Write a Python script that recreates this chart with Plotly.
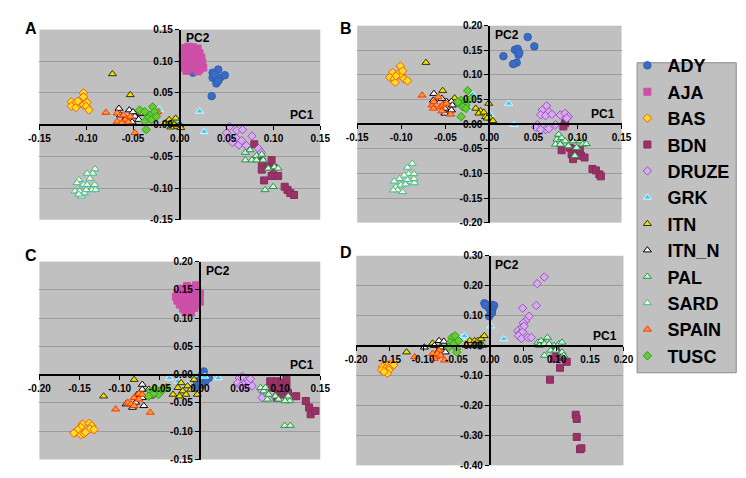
import plotly.graph_objects as go

# ---------------- tick labels ----------------
A_XTICKS = ['-0.15', '-0.10', '-0.05', '0.00', '0.05', '0.10', '0.15']
A_YTICKS = ['-0.15', '-0.10', '-0.05', '0.00', '0.05', '0.10', '0.15']
B_XTICKS = ['-0.15', '-0.10', '-0.05', '0.00', '0.05', '0.10', '0.15']
B_YTICKS = ['-0.20', '-0.15', '-0.10', '-0.05', '0.00', '0.05', '0.10', '0.15', '0.20']
C_XTICKS = ['-0.20', '-0.15', '-0.10', '-0.05', '0.00', '0.05', '0.10', '0.15']
C_YTICKS = ['-0.15', '-0.10', '-0.05', '0.00', '0.05', '0.10', '0.15', '0.20']
D_XTICKS = ['-0.20', '-0.15', '-0.10', '-0.05', '0.00', '0.05', '0.10', '0.15', '0.20']
D_YTICKS = ['-0.40', '-0.30', '-0.20', '-0.10', '0.00', '0.10', '0.20', '0.30']

GROUPS = ['ADY', 'AJA', 'BAS', 'BDN', 'DRUZE', 'GRK', 'ITN', 'ITN_N', 'PAL', 'SARD', 'SPAIN', 'TUSC']

# ---------------- panel A (PC1, PC2) ----------------
A_ADY = [(0.014, 0.082), (0.035, 0.082), (0.041, 0.087), (0.035, 0.074), (0.039, 0.072), (0.043, 0.074),
         (0.039, 0.065), (0.041, 0.069), (0.048, 0.078), (0.034, 0.045), (0.037, 0.079)]
A_AJA = [(0.004, 0.121), (0.009, 0.123), (0.014, 0.122), (0.019, 0.120), (0.006, 0.116), (0.011, 0.117),
         (0.016, 0.115), (0.021, 0.113), (0.003, 0.110), (0.008, 0.109), (0.013, 0.110), (0.018, 0.108),
         (0.023, 0.106), (0.005, 0.103), (0.010, 0.102), (0.015, 0.103), (0.020, 0.100), (0.024, 0.098),
         (0.003, 0.097), (0.008, 0.095), (0.013, 0.096), (0.018, 0.094), (0.023, 0.092), (0.005, 0.090),
         (0.010, 0.088), (0.016, 0.089), (0.021, 0.087), (0.025, 0.090), (0.007, 0.085), (0.019, 0.084)]
A_BAS = [(-0.103, 0.050), (-0.103, 0.044), (-0.116, 0.036), (-0.112, 0.033), (-0.116, 0.029), (-0.111, 0.027),
         (-0.107, 0.033), (-0.103, 0.031), (-0.099, 0.035), (-0.100, 0.029), (-0.097, 0.023), (-0.109, 0.037)]
A_BDN = [(0.0795, -0.031), (0.0875, -0.059), (0.098, -0.056), (0.0875, -0.071), (0.0945, -0.066), (0.098, -0.081),
         (0.105, -0.081), (0.090, -0.088), (0.112, -0.098), (0.115, -0.103), (0.118, -0.108), (0.122, -0.111),
         (0.100, -0.068), (0.086, -0.049)]
A_DRUZE = [(0.053, -0.003), (0.050, -0.013), (0.061, -0.009), (0.067, -0.008), (0.052, -0.021), (0.060, -0.021),
           (0.063, -0.032), (0.056, -0.028), (0.077, -0.018), (0.071, -0.033), (0.084, -0.038), (0.087, -0.044),
           (0.066, -0.025)]
A_GRK = [(0.021, 0.021), (0.026, -0.011), (-0.022, 0.024), (-0.004, 0.003)]
A_ITN = [(-0.072, 0.080), (-0.053, 0.047), (-0.0115, 0.0077), (-0.008, 0.003), (-0.0045, 0.010), (-0.003, -0.003),
         (-0.0097, -0.004), (0.0, 0.0), (0.001, -0.005), (-0.006, 0.0), (-0.015, 0.0026), (-0.041, 0.017)]
A_ITN_N = [(-0.065, 0.0255), (-0.054, 0.023), (-0.048, 0.013), (-0.051, 0.004), (-0.044, 0.008), (-0.058, 0.010),
           (-0.041, 0.018), (-0.050, 0.020), (-0.0635, 0.015)]
A_PAL = [(0.070, -0.044), (0.075, -0.040), (0.070, -0.056), (0.077, -0.056), (0.082, -0.049), (0.0875, -0.047),
         (0.082, -0.056), (0.089, -0.056), (0.0945, -0.069), (0.101, -0.067), (0.105, -0.069), (0.091, -0.103),
         (0.0997, -0.098)]
A_SARD = [(-0.0906, -0.070), (-0.093, -0.077), (-0.099, -0.077), (-0.096, -0.085), (-0.108, -0.087),
          (-0.110, -0.092), (-0.103, -0.095), (-0.099, -0.095), (-0.091, -0.095), (-0.112, -0.105),
          (-0.107, -0.105), (-0.102, -0.108), (-0.094, -0.103), (-0.090, -0.103), (-0.105, -0.113),
          (-0.108, -0.110), (-0.100, -0.103)]
A_SPAIN = [(-0.079, 0.019), (-0.067, 0.018), (-0.067, 0.005), (-0.060, 0.015), (-0.058, 0.008), (-0.055, 0.004),
           (-0.048, -0.013), (-0.062, 0.0025), (-0.0236, 0.020), (-0.053, 0.0128)]
A_TUSC = [(-0.043, 0.023), (-0.0375, 0.0205), (-0.032, 0.015), (-0.029, 0.028), (-0.027, 0.020), (-0.034, 0.010),
          (-0.0305, 0.0077), (-0.0375, 0.005), (-0.025, 0.0128), (-0.036, -0.0077)]

# ---------------- panel B ----------------
B_ADY = [(0.016, 0.138), (0.029, 0.151), (0.032, 0.153), (0.033, 0.141), (0.034, 0.145), (0.0435, 0.177),
         (0.051, 0.158), (0.031, 0.125), (0.027, 0.122)]
B_BAS = [(-0.101, 0.118), (-0.110, 0.105), (-0.113, 0.095), (-0.108, 0.092), (-0.107, 0.085), (-0.104, 0.102),
         (-0.100, 0.098), (-0.097, 0.092), (-0.093, 0.088), (-0.0985, 0.108), (-0.106, 0.098)]
B_BDN = [(0.086, 0.002), (0.084, -0.0046), (0.082, -0.053), (0.0915, -0.048), (0.0933, -0.061), (0.097, -0.051),
         (0.1007, -0.0577), (0.1026, -0.051), (0.104, -0.064), (0.108, -0.0677), (0.095, -0.071), (0.117, -0.091),
         (0.121, -0.094), (0.1248, -0.102), (0.1265, -0.106)]
B_DRUZE = [(0.065, 0.037), (0.060, 0.0287), (0.0675, 0.025), (0.0583, 0.0187), (0.0638, 0.0173), (0.071, 0.020),
           (0.0546, -0.001), (0.0528, -0.0066), (0.0638, -0.011), (0.0675, -0.009), (0.075, -0.001),
           (0.0805, 0.0187), (0.086, 0.022), (0.0897, 0.0153), (0.0878, 0.012), (0.0583, -0.011)]
B_GRK = [(-0.019, 0.060), (-0.023, 0.032), (0.001, 0.019), (0.022, 0.042), (0.028, -0.001)]
B_ITN = [(-0.072, 0.125), (-0.053, 0.068), (-0.0395, 0.053), (-0.0155, 0.032), (-0.010, 0.027), (-0.012, 0.022),
         (-0.0063, 0.024), (-0.0044, 0.015), (-0.0008, 0.042), (0.001, 0.012), (0.004, 0.007), (-0.0025, 0.012)]
B_ITN_N = [(-0.063, 0.062), (-0.0635, 0.0485), (-0.0487, 0.046), (-0.043, 0.046), (-0.042, 0.0385),
           (-0.0506, 0.032), (-0.0506, 0.022), (-0.043, 0.0285), (-0.054, 0.052)]
B_PAL = [(0.0786, -0.021), (0.0767, -0.031), (0.082, -0.028), (0.075, -0.041), (0.0805, -0.041), (0.086, -0.0344),
         (0.095, -0.0344), (0.1026, -0.0344), (0.106, -0.041), (0.110, -0.040), (0.097, -0.064), (0.099, -0.0477),
         (0.0897, -0.0444)]
B_SARD = [(-0.0875, -0.080), (-0.093, -0.088), (-0.0915, -0.101), (-0.0856, -0.101), (-0.0967, -0.104),
          (-0.102, -0.111), (-0.108, -0.116), (-0.106, -0.1275), (-0.1004, -0.124), (-0.095, -0.122),
          (-0.089, -0.1175), (-0.085, -0.1195), (-0.0856, -0.111), (-0.104, -0.134), (-0.0985, -0.1375),
          (-0.109, -0.134), (-0.093, -0.113)]
B_SPAIN = [(-0.0764, 0.0585), (-0.065, 0.0385), (-0.058, 0.055), (-0.0635, 0.032), (-0.056, 0.035),
           (-0.053, 0.0385), (-0.054, 0.0265), (-0.0487, 0.042), (-0.044, 0.020), (-0.063, 0.045)]
B_TUSC = [(-0.0247, 0.068), (-0.032, 0.0485), (-0.0285, 0.045), (-0.034, 0.042), (-0.0266, 0.0385),
          (-0.030, 0.035), (-0.0266, 0.032), (-0.032, 0.0153), (-0.021, 0.052), (-0.0358, 0.045)]

# ---------------- panel C ----------------
C_ADY = [(0.0048, 0.0058), (0.011, -0.0058), (0.0069, -0.0117), (0.0008, -0.0087), (-0.0052, -0.023),
         (-0.004, -0.012), (0.002, -0.018), (0.003, 0.001)]
C_AJA = [(-0.016, 0.157), (-0.005, 0.158), (-0.024, 0.152), (-0.017, 0.150), (-0.010, 0.151), (-0.003, 0.149),
         (-0.028, 0.145), (-0.021, 0.144), (-0.014, 0.145), (-0.007, 0.144), (0.0, 0.143), (-0.030, 0.138),
         (-0.023, 0.137), (-0.016, 0.138), (-0.009, 0.137), (-0.002, 0.136), (-0.028, 0.131), (-0.021, 0.130),
         (-0.014, 0.131), (-0.007, 0.130), (0.0, 0.129), (-0.025, 0.124), (-0.018, 0.123), (-0.011, 0.124),
         (-0.004, 0.123), (-0.021, 0.117), (-0.014, 0.116), (-0.007, 0.118), (-0.018, 0.111), (-0.011, 0.110)]
C_BAS = [(-0.1465, -0.0872), (-0.1485, -0.093), (-0.138, -0.086), (-0.135, -0.090), (-0.137, -0.096),
         (-0.132, -0.097), (-0.155, -0.1017), (-0.150, -0.1034), (-0.1485, -0.106), (-0.1445, -0.1046),
         (-0.1425, -0.1017), (-0.1526, -0.0976), (-0.157, -0.1034)]
C_BDN = [(0.0876, -0.0117), (0.0957, -0.0117), (0.1017, -0.0145), (0.1078, -0.0087), (0.1078, -0.020),
         (0.0977, -0.026), (0.1017, -0.035), (0.0957, -0.0406), (0.1098, -0.032), (0.120, -0.038),
         (0.132, -0.0465), (0.136, -0.058), (0.138, -0.070), (0.144, -0.064), (0.0896, -0.023)]
C_DRUZE = [(0.049, -0.0058), (0.053, -0.003), (0.047, -0.0145), (0.055, -0.0174), (0.061, -0.0117),
           (0.065, -0.020), (0.057, -0.023), (0.051, -0.020), (0.0775, -0.029), (0.0775, -0.0406), (0.063, -0.007)]
C_GRK = [(-0.038, -0.006), (-0.0275, -0.0117), (-0.0154, -0.0174), (0.006, -0.003), (0.023, -0.0058)]
C_ITN = [(-0.082, -0.0087), (-0.120, -0.038), (-0.0335, -0.035), (-0.0275, -0.023), (-0.0234, -0.0145),
         (-0.0214, -0.029), (-0.0173, -0.035), (-0.0154, -0.020), (-0.0113, -0.026), (-0.0073, -0.0087),
         (-0.0033, -0.035), (-0.0254, -0.038)]
C_ITN_N = [(-0.0718, -0.0174), (-0.0718, -0.026), (-0.0638, -0.026), (-0.0618, -0.038), (-0.0718, -0.0406),
           (-0.0699, -0.055), (-0.084, -0.058), (-0.092, -0.052), (-0.080, -0.049), (-0.078, -0.035),
           (-0.0578, -0.035)]
C_PAL = [(0.0755, -0.023), (0.0795, -0.029), (0.0856, -0.035), (0.084, -0.0436), (0.094, -0.038),
         (0.098, -0.0436), (0.110, -0.038), (0.112, -0.0465), (0.106, -0.0465), (0.0816, -0.023),
         (0.1057, -0.090), (0.1126, -0.090)]
C_SPAIN = [(-0.105, -0.061), (-0.090, -0.049), (-0.086, -0.052), (-0.082, -0.0406), (-0.076, -0.0436),
           (-0.076, -0.0337), (-0.0718, -0.035), (-0.0618, -0.0668), (-0.0456, -0.023), (-0.082, -0.055)]
C_TUSC = [(-0.0618, -0.029), (-0.0557, -0.0244), (-0.0497, -0.029), (-0.0456, -0.026), (-0.0517, -0.035),
          (-0.0578, -0.0337), (-0.0416, -0.023), (-0.0638, -0.038)]

# ---------------- panel D ----------------
D_ADY = [(-0.0082, 0.1416), (-0.0034, 0.136), (0.0039, 0.136), (0.0063, 0.134), (-0.001, 0.125), (0.0039, 0.122),
         (0.0015, 0.114), (-0.001, 0.098), (-0.0034, 0.131), (-0.0068, 0.136), (0.003, 0.109), (-0.015, 0.0)]
D_BAS = [(-0.156, -0.065), (-0.151, -0.063), (-0.1465, -0.060), (-0.144, -0.065), (-0.161, -0.071),
         (-0.156, -0.076), (-0.151, -0.076), (-0.162, -0.082), (-0.156, -0.087), (-0.151, -0.082),
         (-0.1535, -0.0926), (-0.1585, -0.087)]
D_BDN = [(0.077, 0.008), (0.0985, -0.016), (0.101, -0.027), (0.115, -0.054), (0.105, -0.074), (0.090, -0.114),
         (0.1285, -0.231), (0.130, -0.245), (0.130, -0.305), (0.135, -0.346), (0.137, -0.343), (0.106, -0.038),
         (0.096, -0.0436)]
D_DRUZE = [(0.0815, 0.229), (0.0708, 0.207), (0.049, 0.125), (0.0694, 0.134), (0.0587, 0.098), (0.0534, 0.082),
           (0.050, 0.076), (0.0475, 0.060), (0.0417, 0.049), (0.045, 0.041), (0.049, 0.046), (0.0427, 0.033),
           (0.0475, 0.024), (0.0572, 0.027), (0.062, 0.027), (0.0514, 0.065)]
D_GRK = [(0.0015, 0.065), (0.021, 0.022), (-0.042, 0.027), (-0.038, 0.032)]
D_ITN = [(-0.1247, -0.0218), (-0.0858, 0.0076), (-0.035, 0.0), (-0.030, 0.0163), (-0.0228, 0.0163),
         (-0.018, 0.0163), (-0.013, 0.022), (-0.0083, 0.0327), (-0.025, 0.0), (-0.0106, 0.0)]
D_ITN_N = [(-0.098, -0.0055), (-0.076, 0.0163), (-0.069, 0.014), (-0.0737, -0.0055), (-0.064, -0.0055),
           (-0.0786, -0.022), (-0.0665, -0.022), (-0.083, 0.0)]
D_PAL = [(0.0718, 0.011), (0.0766, 0.016), (0.0863, 0.027), (0.0815, 0.0054), (0.0888, 0.0054), (0.096, 0.0),
         (0.1033, 0.0054), (0.108, 0.011), (0.091, -0.016), (0.0985, -0.016), (0.108, -0.022), (0.0815, -0.033),
         (0.1106, -0.033), (0.074, 0.0)]
D_SPAIN = [(-0.1125, -0.038), (-0.0858, -0.027), (-0.081, -0.038), (-0.076, -0.0163), (-0.0786, -0.027),
           (-0.0737, -0.0327), (-0.068, -0.049), (-0.083, -0.0435)]
D_TUSC = [(-0.0567, 0.027), (-0.052, 0.0327), (-0.059, 0.011), (-0.0543, 0.0055), (-0.0495, -0.011),
          (-0.0615, -0.0055), (-0.047, 0.0163), (-0.0495, -0.022)]

PANEL_DATA = {
    'A': {'ADY': A_ADY, 'AJA': A_AJA, 'BAS': A_BAS, 'BDN': A_BDN, 'DRUZE': A_DRUZE, 'GRK': A_GRK, 'ITN': A_ITN,
          'ITN_N': A_ITN_N, 'PAL': A_PAL, 'SARD': A_SARD, 'SPAIN': A_SPAIN, 'TUSC': A_TUSC},
    'B': {'ADY': B_ADY, 'BAS': B_BAS, 'BDN': B_BDN, 'DRUZE': B_DRUZE, 'GRK': B_GRK, 'ITN': B_ITN,
          'ITN_N': B_ITN_N, 'PAL': B_PAL, 'SARD': B_SARD, 'SPAIN': B_SPAIN, 'TUSC': B_TUSC},
    'C': {'ADY': C_ADY, 'AJA': C_AJA, 'BAS': C_BAS, 'BDN': C_BDN, 'DRUZE': C_DRUZE, 'GRK': C_GRK, 'ITN': C_ITN,
          'ITN_N': C_ITN_N, 'PAL': C_PAL, 'SPAIN': C_SPAIN, 'TUSC': C_TUSC},
    'D': {'ADY': D_ADY, 'BAS': D_BAS, 'BDN': D_BDN, 'DRUZE': D_DRUZE, 'GRK': D_GRK, 'ITN': D_ITN,
          'ITN_N': D_ITN_N, 'PAL': D_PAL, 'SPAIN': D_SPAIN, 'TUSC': D_TUSC},
}

# ---------------- styles ----------------
STYLE = {
    'ADY':   dict(symbol='circle', color='#3a6cc6', line='#2f5fb5', size=7.5),
    'AJA':   dict(symbol='square', color='#cc4fa8', line='#cc4fa8', size=7),
    'BAS':   dict(symbol='diamond', color='#ffdd22', line='#ff5a00', size=6.5),
    'BDN':   dict(symbol='square', color='#993366', line='#8a2a5e', size=7),
    'DRUZE': dict(symbol='diamond', color='#d8aaf0', line='#9955bb', size=6.5),
    'GRK':   dict(symbol='triangle-up', color='#33ccff', line='#dff8ff', size=7),
    'ITN':   dict(symbol='triangle-up', color='#f0e000', line='#333300', size=7),
    'ITN_N': dict(symbol='triangle-up', color='#ffffff', line='#000000', size=7),
    'PAL':   dict(symbol='triangle-up', color='#ccffcc', line='#2e8b57', size=7),
    'SARD':  dict(symbol='triangle-up', color='#ffffbb', line='#3cb8b0', size=7),
    'SPAIN': dict(symbol='triangle-up', color='#ff9933', line='#ff3300', size=7),
    'TUSC':  dict(symbol='diamond', color='#66cc33', line='#339922', size=6.5),
}

W, H = 746, 478
# pixel boxes of each plot area: (left, right, top, bottom)
PANEL_BOX = {'A': (21, 310, 16, 211), 'B': (348, 620, 12, 214), 'C': (21, 310, 254, 457), 'D': (347, 622, 248, 463)}
TICKS = {'A': (A_XTICKS, A_YTICKS), 'B': (B_XTICKS, B_YTICKS), 'C': (C_XTICKS, C_YTICKS), 'D': (D_XTICKS, D_YTICKS)}

SANS = 'Liberation Sans, Arial, sans-serif'
TICKFONT = dict(family=SANS, size=10, color='black', weight='bold')


def bold(labels):
    return ['<b>%s</b>' % s for s in labels]


fig = go.Figure()
layout_axes = {}
annotations = []

for i, p in enumerate(['A', 'B', 'C', 'D'], start=1):
    xt, yt = TICKS[p]
    xv = [float(t) for t in xt]
    yv = [float(t) for t in yt]
    xr = [xv[0], xv[-1]]
    yr = [yv[0], yv[-1]]
    l, r, t, b = PANEL_BOX[p]
    xdom = [l / W, r / W]
    ydom = [1 - b / H, 1 - t / H]
    x0pos = xdom[0] + (0 - xr[0]) / (xr[1] - xr[0]) * (xdom[1] - xdom[0])
    y0pos = ydom[0] + (0 - yr[0]) / (yr[1] - yr[0]) * (ydom[1] - ydom[0])
    sfx = '' if i == 1 else str(i)
    layout_axes['xaxis' + sfx] = dict(
        domain=xdom, range=xr, anchor='free', position=y0pos, showline=True, linecolor='black', linewidth=2,
        showgrid=False, zeroline=False, ticks='outside', ticklen=4, tickwidth=1, tickcolor='black',
        tickvals=xv, ticktext=bold(xt), tickfont=TICKFONT, fixedrange=True)
    layout_axes['yaxis' + sfx] = dict(
        domain=ydom, range=yr, anchor='free', position=x0pos, showline=True, linecolor='black', linewidth=2,
        showgrid=True, gridcolor='#9c9c9c', gridwidth=1, zeroline=False, ticks='outside', ticklen=4,
        tickwidth=1, tickcolor='black', tickvals=yv, ticktext=bold(yt), tickfont=TICKFONT, fixedrange=True)

    for g in GROUPS:
        if g not in PANEL_DATA[p]:
            continue
        pts = PANEL_DATA[p][g]
        s = STYLE[g]
        fig.add_trace(go.Scatter(
            x=[q[0] for q in pts], y=[q[1] for q in pts], mode='markers', name=g,
            xaxis='x' + sfx, yaxis='y' + sfx, showlegend=(p == 'A'),
            marker=dict(symbol=s['symbol'], color=s['color'], size=s['size'],
                        line=dict(color=s['line'], width=1))))

    xref, yref = 'x' + sfx, 'y' + sfx
    annotations.append(dict(x=0.004 * (xr[1] - xr[0]) / 0.3, y=yr[1] - 0.045 * (yr[1] - yr[0]), xref=xref, yref=yref,
                            text='PC2', showarrow=False, xanchor='left', yanchor='middle',
                            font=dict(family=SANS, size=12, color='black', weight='bold')))
    annotations.append(dict(x=xr[1] - 0.005 * (xr[1] - xr[0]) / 0.3, y=0, xref=xref, yref=yref,
                            text='PC1', showarrow=False, xanchor='right', yanchor='bottom', yshift=1,
                            font=dict(family=SANS, size=12, color='black', weight='bold')))

LETTER_POS = {'A': (12, 15), 'B': (336, 15), 'C': (12, 248), 'D': (336, 245)}
for p, (lx, ly) in LETTER_POS.items():
    annotations.append(dict(x=lx / W, y=1 - ly / H, xref='paper', yref='paper', text=p,
                            showarrow=False, xanchor='center', yanchor='middle',
                            font=dict(family=SANS, size=16, color='black', weight='bold')))

fig.update_layout(
    width=W, height=H, margin=dict(l=0, r=0, t=0, b=0),
    paper_bgcolor='white', plot_bgcolor='#c0c0c0',
    annotations=annotations,
    shapes=[dict(type='rect', xref='paper', yref='paper', x0=636 / W, x1=738 / W, y0=1 - 368 / H, y1=1 - 50 / H,
                 fillcolor='#c0c0c0', line=dict(color='#8a8a8a', width=1), layer='below')],
    legend=dict(x=626 / W, xanchor='left', y=1 - 34 / H, yanchor='top', bgcolor='rgba(0,0,0,0)',
                font=dict(family=SANS, size=18, color='black', weight='bold'),
                tracegroupgap=0, itemclick=False, itemdoubleclick=False),
    **layout_axes,
)

fig.write_html('out.html')
